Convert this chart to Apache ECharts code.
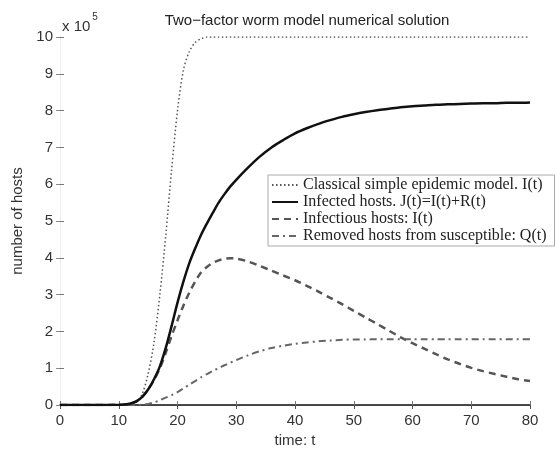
<!DOCTYPE html>
<html>
<head>
<meta charset="utf-8">
<script src="https://cdn.jsdelivr.net/npm/echarts@6/dist/echarts.min.js"></script>
<style>html,body{margin:0;padding:0;background:#fff}#c{width:556px;height:453px}</style>
</head>
<body>
<div id="c"></div>
<script>
const times = [0,5,10,11,12,13,14,15,16,17,18,19,20,21,22,23,24,25,26,27,28,29,30,32,34,36,38,40,42,44,46,48,50,52,54,56,58,60,62,64,66,68,70,72,74,76,78,80];
const classical = [0,0,0.005,0.01,0.03,0.08,0.3,0.85,1.7,3.0,4.6,6.4,8.0,9.1,9.6,9.85,9.95,10,10,10,10,10,10,10,10,10,10,10,10,10,10,10,10,10,10,10,10,10,10,10,10,10,10,10,10,10,10,10];
const infectedJ = [0,0,0.005,0.015,0.04,0.1,0.22,0.42,0.7,1.05,1.55,2.15,2.78,3.35,3.85,4.25,4.62,4.93,5.22,5.5,5.73,5.94,6.12,6.45,6.75,7.0,7.2,7.38,7.52,7.64,7.74,7.83,7.9,7.96,8.01,8.05,8.09,8.12,8.14,8.16,8.17,8.18,8.19,8.2,8.2,8.21,8.21,8.22];
const infectiousI = [0,0,0.005,0.015,0.04,0.1,0.22,0.42,0.68,1.0,1.42,1.88,2.3,2.7,3.05,3.35,3.6,3.75,3.86,3.93,3.97,3.99,3.98,3.9,3.78,3.65,3.52,3.39,3.24,3.08,2.91,2.74,2.56,2.38,2.2,2.02,1.84,1.68,1.53,1.38,1.24,1.12,1.01,0.92,0.84,0.77,0.7,0.65];
const removedQ = [0,0,0,0,0,0,0.01,0.03,0.07,0.13,0.2,0.27,0.35,0.45,0.55,0.65,0.75,0.84,0.93,1.0,1.08,1.15,1.22,1.35,1.46,1.55,1.61,1.66,1.7,1.73,1.75,1.77,1.78,1.78,1.79,1.79,1.79,1.79,1.79,1.79,1.79,1.79,1.79,1.79,1.79,1.79,1.79,1.79];
const seriesNames = ['Classical simple epidemic model. I(t)','Infected hosts. J(t)=I(t)+R(t)','Infectious hosts: I(t)','Removed hosts from susceptible: Q(t)'];
const xTicks = [0,10,20,30,40,50,60,70,80];
const yTicks = [0,1,2,3,4,5,6,7,8,9,10];

const pair = arr => times.map((t,i)=>[t,arr[i]]);
const chart = echarts.init(document.getElementById('c'));
const sans = 'Liberation Sans, Arial, sans-serif';
const serif = 'Liberation Serif, Times New Roman, serif';
const axisCommon = {
  axisLine:{show:true,lineStyle:{color:'#ddd',width:1}},
  axisTick:{show:true,inside:true,length:4,lineStyle:{color:'#777'}},
  splitLine:{show:false},
  axisLabel:{color:'#333',fontSize:15,fontFamily:sans}
};
chart.setOption({
  animation:false,
  backgroundColor:'#fff',
  title:{text:'Two\u2212factor worm model numerical solution',left:302,textAlign:'center',top:8,
    textStyle:{fontSize:15,fontWeight:'normal',color:'#222',fontFamily:sans}},
  grid:{left:60,right:26,top:37,bottom:46},
  xAxis:[Object.assign({},axisCommon,{type:'value',min:0,max:80,interval:10,
      name:'time: t',nameLocation:'middle',nameGap:28,
      nameTextStyle:{fontSize:15,color:'#333',fontFamily:sans},
      axisLabel:Object.assign({},axisCommon.axisLabel,{margin:8,formatter:v=>xTicks.includes(v)?String(v):''})}),
    {type:'value',position:'top',min:0,max:80,interval:10,
      axisLine:{show:true,lineStyle:{color:'#111',width:1.5}},
      axisTick:{show:true,inside:true,length:4,lineStyle:{color:'#555'}},
      axisLabel:{show:false},splitLine:{show:false}}],
  yAxis:[Object.assign({},axisCommon,{type:'value',min:0,max:10,interval:1,
      name:'number of hosts',nameLocation:'middle',nameGap:25,
      nameTextStyle:{fontSize:15,color:'#333',fontFamily:sans},
      axisLabel:Object.assign({},axisCommon.axisLabel,{margin:7,formatter:v=>yTicks.includes(v)?String(v):''})}),
    {type:'value',position:'right',min:0,max:10,interval:1,
      axisLine:{show:true,lineStyle:{color:'#eee'}},
      axisTick:{show:true,inside:true,length:4,lineStyle:{color:'#888'}},
      axisLabel:{show:false},splitLine:{show:false}}],
  legend:{
    orient:'vertical',left:268,top:175,padding:[2,8,2,3],
    backgroundColor:'#fff',borderColor:'#aaa',borderWidth:1,
    itemWidth:26,itemHeight:10,itemGap:1,
    itemStyle:{opacity:0},
    textStyle:{fontFamily:serif,fontSize:16,color:'#222'},
    data:seriesNames
  },
  graphic:[{type:'text',left:62,top:12,style:{
    text:'{a|x 10}{b|5}',
    rich:{a:{fontSize:15,fontFamily:sans,fill:'#333',verticalAlign:'bottom'},
          b:{fontSize:10,fontFamily:sans,fill:'#333',verticalAlign:'top',padding:[0,0,12,2]}}
  }}],
  series:[
    {name:seriesNames[0],type:'line',data:pair(classical),symbol:'none',smooth:0.3,z:3,
      itemStyle:{color:'#555'},lineStyle:{color:'#555',width:1.5,type:[1.5,2.5]}},
    {name:seriesNames[1],type:'line',data:pair(infectedJ),symbol:'none',smooth:0.3,z:4,
      itemStyle:{color:'#111'},lineStyle:{color:'#111',width:2.5,type:'solid'}},
    {name:seriesNames[2],type:'line',data:pair(infectiousI),symbol:'none',smooth:0.3,z:3,
      itemStyle:{color:'#555'},lineStyle:{color:'#555',width:2.5,type:[7,5]}},
    {name:seriesNames[3],type:'line',data:pair(removedQ),symbol:'none',smooth:0.3,z:3,
      itemStyle:{color:'#666'},lineStyle:{color:'#666',width:2,type:[7,4,2,4]}}
  ]
});
</script>
</body>
</html>
